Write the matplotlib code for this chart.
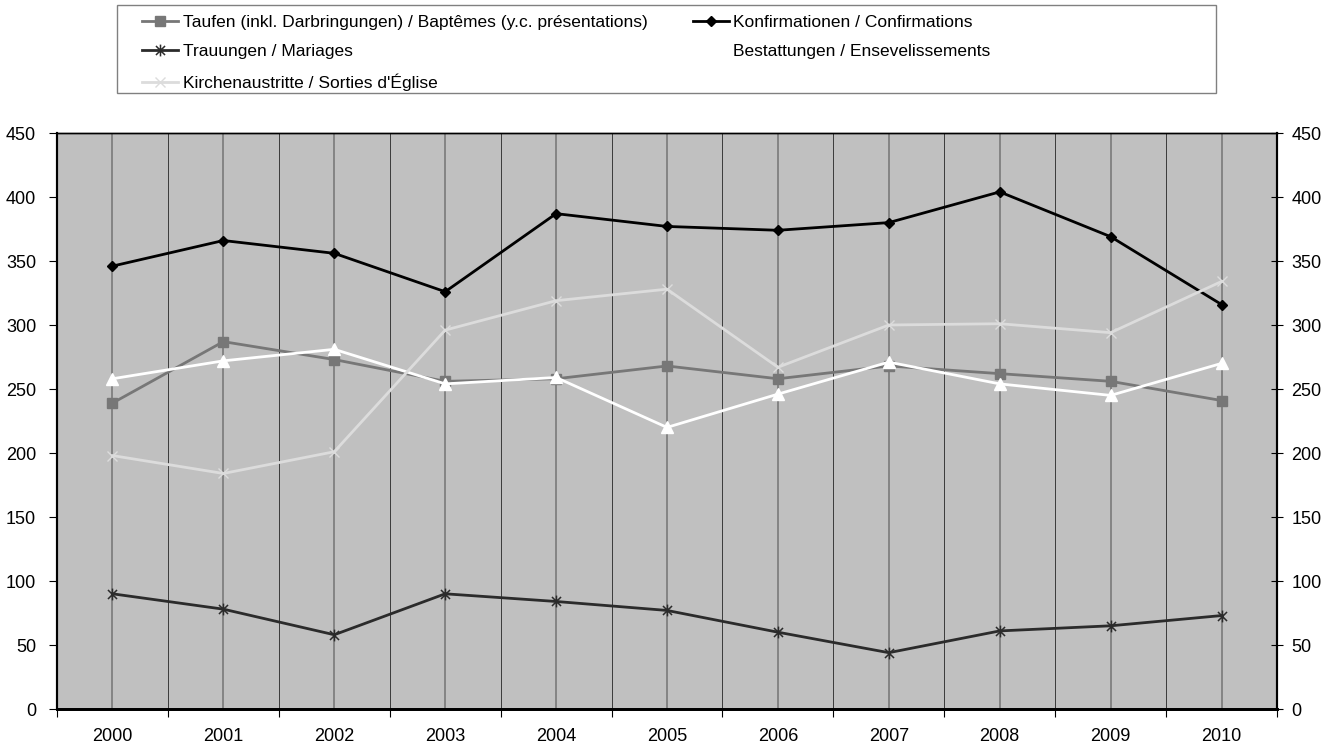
import matplotlib
matplotlib.use('Agg')
import matplotlib.pyplot as plt
from matplotlib.path import Path
from matplotlib.patches import Rectangle

plt.rcParams['font.family'] = ['Liberation Sans', 'DejaVu Sans']

# data
years = ['2000', '2001', '2002', '2003', '2004', '2005', '2006', '2007', '2008', '2009', '2010']
taufen = [239, 287, 273, 256, 258, 268, 258, 268, 262, 256, 241]
konfirmationen = [346, 366, 356, 326, 387, 377, 374, 380, 404, 369, 316]
trauungen = [90, 78, 58, 90, 84, 77, 60, 44, 61, 65, 73]
bestattungen = [258, 272, 281, 254, 259, 220, 246, 271, 254, 245, 270]
austritte = [198, 184, 201, 296, 319, 328, 267, 300, 301, 294, 334]

labels = ['Taufen (inkl. Darbringungen) / Baptêmes (y.c. présentations)',
          'Konfirmationen / Confirmations',
          'Trauungen / Mariages',
          'Bestattungen / Ensevelissements',
          "Kirchenaustritte / Sorties d'Église"]

W, H = 1341, 749
fig = plt.figure(figsize=(W / 100, H / 100), dpi=100)
ax = fig.add_axes([57 / W, 1 - 709 / H, (1277 - 57) / W, (709 - 133) / H])
ax.set_facecolor('#c0c0c0')

x = list(range(len(years)))

# excel style star marker (x with a vertical bar)
star = Path([(-1, -1), (1, 1), (-1, 1), (1, -1), (0, -1.3), (0, 1.3)],
            [Path.MOVETO, Path.LINETO, Path.MOVETO, Path.LINETO, Path.MOVETO, Path.LINETO])

l1, = ax.plot(x, taufen, color='#777777', lw=2, marker='s', ms=7, mfc='#777777', mec='#777777', zorder=3)
l2, = ax.plot(x, konfirmationen, color='black', lw=2, marker='D', ms=5.5, mfc='black', mec='black', zorder=3)
l3, = ax.plot(x, trauungen, color='#2b2b2b', lw=2, marker=star, ms=8.5, mfc='none', mec='#2b2b2b', mew=1.1, zorder=3)
l4, = ax.plot(x, bestattungen, color='white', lw=2, marker='^', ms=8, mfc='white', mec='white', zorder=3)
l5, = ax.plot(x, austritte, color='#dcdcdc', lw=2, marker='x', ms=7, mec='#dcdcdc', mew=1, zorder=3)

ax.set_xlim(-0.5, len(years) - 0.5)
ax.set_ylim(0, 450)
ax.set_yticks(range(0, 451, 50))
ax.set_xticks(x)
ax.set_xticklabels(years, fontsize=13)
ax.set_xticks([k - 0.5 for k in range(len(years) + 1)], minor=True)
ax.tick_params(axis='x', which='major', length=0, pad=14)
ax.tick_params(axis='x', which='minor', length=6, width=0.8, direction='out', color='black')
ax.tick_params(axis='y', labelsize=13, length=6, width=0.8, pad=9)
ax.grid(axis='x', which='major', color='#7a7a7a', lw=1.2)
ax.grid(axis='x', which='minor', color='#3a3a3a', lw=0.7)
ax.set_axisbelow(True)

ax2 = ax.twinx()
ax2.set_ylim(0, 450)
ax2.set_yticks(range(0, 451, 50))
ax2.tick_params(axis='y', labelsize=13, direction='inout', length=9, width=0.8, pad=6)

for a in (ax, ax2):
    a.spines['left'].set_linewidth(1.5)
    a.spines['right'].set_linewidth(1.5)
    a.spines['bottom'].set_linewidth(2)
    a.spines['top'].set_linewidth(1)
    for s in a.spines.values():
        s.set_color('black')

# legend, column-wise fill: taufen, trauungen, austritte | konfirmationen, bestattungen
fig.legend([l1, l3, l5, l2, l4], [labels[0], labels[2], labels[4], labels[1], labels[3]],
           loc='upper left', bbox_to_anchor=(142 / W, 1 - 15 / H), ncol=2, frameon=False,
           fontsize=12.5, handlelength=2.1, handletextpad=0.25, columnspacing=2.6,
           labelspacing=0.8, borderpad=0, borderaxespad=0)
fig.patches.append(Rectangle((117 / W, 1 - 93 / H), (1216 - 117) / W, (93 - 5) / H,
                             transform=fig.transFigure, fill=False, edgecolor='#808080', lw=1))

fig.savefig('out.png', dpi=100)
